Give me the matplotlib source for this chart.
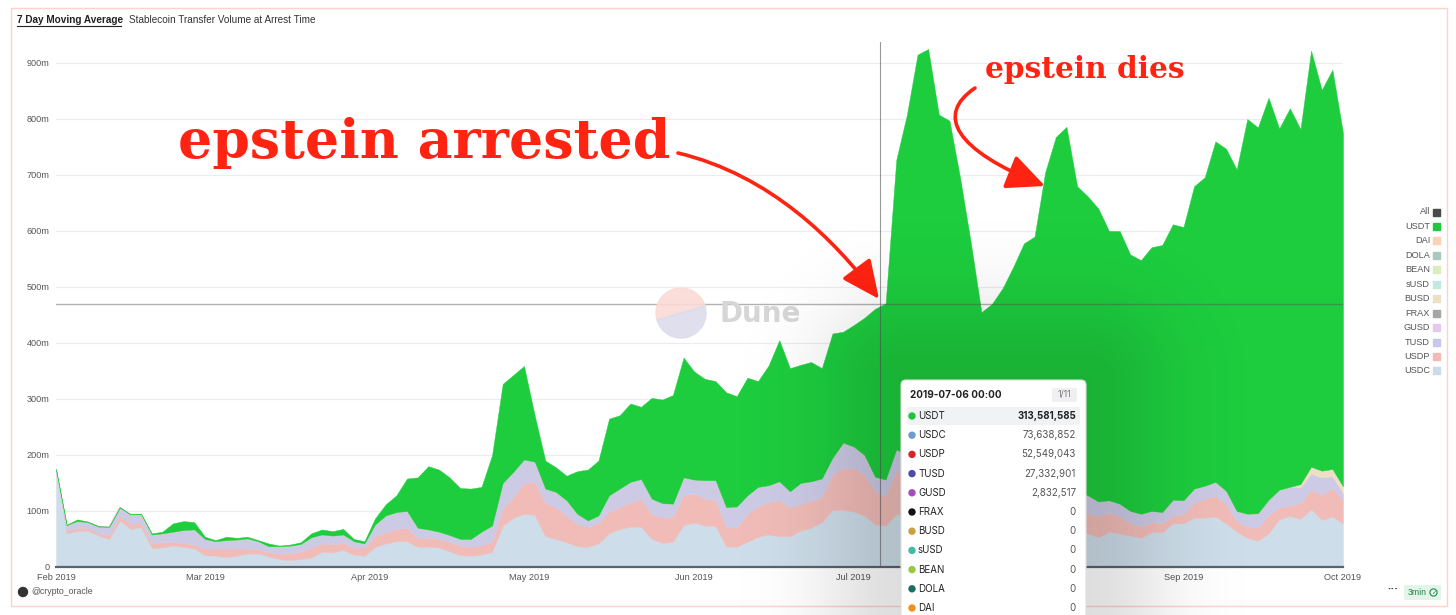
#!/usr/bin/python
# -*- coding:utf-8 -*-

import numpy as np
import matplotlib
matplotlib.use("Agg")
import matplotlib.pyplot as plt
from matplotlib.patches import Rectangle, FancyBboxPatch, FancyArrowPatch, Circle, Wedge
from matplotlib.path import Path
from matplotlib.transforms import IdentityTransform

W, H = 1456, 615

start_date = '2019-02-01'
step_days = 2

# stack edges every 2 days, in millions (7 day MA)
total = [175, 74, 85, 81, 73, 72, 107, 94, 95, 60,
         63, 78, 82, 80, 54, 48, 54, 52, 54, 48,
         42, 38, 40, 44, 60, 67, 64, 68, 50, 46,
         87, 112, 128, 158, 160, 180, 174, 160, 141, 140,
         143, 200, 327, 343, 359, 271, 190, 178, 163, 171,
         174, 190, 265, 271, 292, 286, 302, 299, 307, 374,
         349, 336, 332, 312, 305, 338, 332, 360, 405, 355,
         361, 366, 355, 417, 420, 432, 445, 461, 471, 727,
         808, 915, 925, 808, 797, 695, 580, 455, 470, 498,
         536, 578, 590, 705, 768, 786, 680, 662, 640, 600,
         600, 558, 548, 571, 575, 612, 607, 680, 696, 760,
         747, 710, 800, 785, 838, 783, 819, 782, 922, 852,
         888, 775]

usdc_top = [174, 60, 64, 65, 56, 50, 83, 68, 71, 34,
            35, 38, 36, 33, 21, 20, 18, 20, 24, 24,
            19, 14, 12, 14, 17, 27, 26, 30, 22, 20,
            36, 42, 46, 46, 36, 36, 35, 28, 21, 20,
            22, 27, 74, 88, 95, 93, 55, 50, 44, 37,
            36, 42, 60, 68, 72, 72, 50, 43, 45, 75,
            79, 74, 73, 37, 36, 45, 54, 58, 55, 55,
            65, 70, 80, 102, 102, 99, 92, 76, 74, 95,
            90, 88, 85, 82, 80, 78, 75, 72, 70, 68,
            66, 65, 64, 63, 62, 62, 62, 60, 53, 63,
            60, 56, 52, 62, 62, 78, 78, 88, 88, 90,
            78, 63, 52, 47, 60, 85, 91, 86, 103, 84,
            90, 78]

usdp_top = [174, 64, 70, 70, 60, 57, 92, 77, 78, 42,
            45, 44, 43, 40, 33, 33, 33, 33, 33, 32,
            26, 24, 25, 27, 35, 42, 41, 43, 34, 35,
            55, 62, 68, 70, 52, 52, 50, 45, 38, 36,
            39, 45, 104, 125, 150, 152, 115, 106, 92, 76,
            72, 78, 99, 107, 115, 121, 95, 88, 90, 128,
            131, 122, 119, 72, 70, 95, 108, 116, 119, 106,
            112, 118, 125, 165, 176, 177, 165, 135, 126, 172,
            165, 160, 150, 145, 140, 135, 130, 125, 120, 118,
            115, 112, 110, 108, 106, 104, 100, 96, 91, 97,
            91, 78, 73, 80, 78, 92, 95, 115, 122, 127,
            112, 82, 72, 70, 93, 106, 110, 114, 138, 129,
            141, 119]

# TUSD + GUSD
tusd_top = [174, 75, 82, 80, 72, 72, 106, 94, 94, 58,
            60, 63, 66, 67, 50, 46, 48, 49, 51, 46,
            37, 37, 38, 41, 53, 58, 56, 58, 46, 42,
            76, 92, 98, 100, 70, 67, 63, 57, 50, 50,
            63, 74, 150, 170, 192, 188, 140, 134, 119, 95,
            83, 92, 128, 140, 152, 157, 122, 114, 113, 160,
            156, 155, 155, 107, 108, 128, 143, 146, 153, 135,
            150, 153, 158, 195, 222, 215, 200, 161, 156, 210,
            200, 190, 180, 175, 170, 165, 160, 155, 150, 148,
            145, 142, 140, 138, 136, 134, 132, 128, 117, 119,
            113, 100, 95, 100, 98, 120, 119, 140, 145, 152,
            136, 100, 95, 96, 120, 138, 143, 142, 166, 160,
            162, 132]

busd = [0, 0, 0, 0, 0, 0, 0, 0, 0, 0,
        0, 0, 0, 0, 0, 0, 0, 0, 0, 0,
        0, 0, 0, 0, 0, 0, 0, 0, 0, 0,
        0, 0, 0, 0, 0, 0, 0, 0, 0, 0,
        0, 0, 0, 0, 0, 0, 0, 0, 0, 0,
        0, 0, 0, 0, 0, 0, 0, 0, 0, 0,
        0, 0, 0, 0, 0, 0, 0, 0, 0, 0,
        0, 0, 0, 0, 0, 0, 0, 0, 0, 0,
        0, 0, 0, 0, 0, 0, 0, 0, 0, 0,
        0, 0, 0, 0, 0, 0, 0, 0, 0, 0,
        0, 0, 0, 0, 0, 0, 0, 0, 0, 0,
        0, 0, 0, 0, 0, 0, 0, 6, 13, 12,
        13, 12]

month_ticks = ['2019-02-01', '2019-03-01', '2019-04-01', '2019-05-01', '2019-06-01',
               '2019-07-01', '2019-08-01', '2019-09-01', '2019-10-01']
month_labels = ['Feb 2019', 'Mar 2019', 'Apr 2019', 'May 2019', 'Jun 2019',
                'Jul 2019', 'Aug 2019', 'Sep 2019', 'Oct 2019']
y_ticks = [0, 100, 200, 300, 400, 500, 600, 700, 800, 900]
y_labels = ['0', '100m', '200m', '300m', '400m', '500m', '600m', '700m', '800m', '900m']

legend_names = ['All', 'USDT', 'DAI', 'DOLA', 'BEAN', 'sUSD', 'BUSD', 'FRAX', 'GUSD', 'TUSD', 'USDP', 'USDC']
legend_colors = ['#4a4a4a', '#1ec73e', '#f9d3b4', '#a9c9bf', '#d9edbd', '#c2e9e0',
                 '#ece1c4', '#a6a6a6', '#e5c9ea', '#c9c8ea', '#f3b9b6', '#c9dcec']

tip_date = '2019-07-06'
tip_level = 470
tip_header = '2019-07-06 00:00'
tip_names = ['USDT', 'USDC', 'USDP', 'TUSD', 'GUSD', 'FRAX', 'BUSD', 'sUSD', 'BEAN', 'DOLA', 'DAI']
tip_values = ['313,581,585', '73,638,852', '52,549,043', '27,332,901', '2,832,517',
              '0', '0', '0', '0', '0', '0']
tip_dots = ['#1fc43c', '#6d9dcc', '#d9232b', '#4c4ca6', '#a84cba', '#111111',
            '#c9a23f', '#44b9a6', '#97c93e', '#1f6e63', '#f0901f']

SANS = ['Liberation Sans', 'DejaVu Sans']
UI = ['Inter', 'DejaVu Sans']
ID = IdentityTransform()


def ftext(x, y, s, **kw):
    # text placed in image pixel coords (y from top)
    return fig.text(x / W, 1 - y / H, s, **kw)


def pbox(x0, y0, x1, y1, **kw):
    # box patch in image pixel coords
    return FancyBboxPatch((x0, H - y1), x1 - x0, y1 - y0, transform=ID, clip_on=False, **kw)


fig = plt.figure(figsize=(W / 100, H / 100), dpi=100)
fig.patch.set_facecolor('white')

ax = fig.add_axes([56 / W, 1 - 567 / H, (1343 - 56) / W, (567 - 42) / H])

dates = np.datetime64(start_date) + np.arange(len(total)) * step_days
e1 = np.array(usdc_top, float)
e2 = np.maximum(np.array(usdp_top, float), e1)
e3 = np.maximum(np.array(tusd_top, float), e2)
e4 = e3 + np.array(busd, float)
e5 = np.maximum(np.array(total, float), e4)

ax.fill_between(dates, 0, e1, color='#cddde9', lw=0.3, zorder=2)
ax.fill_between(dates, e1, e2, color='#f1bcb8', lw=0.3, zorder=2)
ax.fill_between(dates, e2, e3, color='#cccae5', lw=0.3, zorder=2)
ax.plot(dates, e3, color='#e6c6e8', lw=1.0, zorder=2)
ax.fill_between(dates, e3, e4, color='#ecdfc4', lw=0.3, zorder=2)
ax.fill_between(dates, e4, e5, color='#1dcd3e', lw=0.3, zorder=2)

ax.set_xlim(dates[0], dates[-1])
ax.set_ylim(0, (567 - 42) / 0.56)
ax.set_yticks(y_ticks)
ax.set_yticklabels(y_labels)
ax.set_xticks(np.array(month_ticks, dtype='datetime64[D]'))
ax.set_xticklabels(month_labels)
ax.tick_params(length=0, labelsize=6.6, labelcolor='#555555')
ax.tick_params(axis='y', pad=4.5)
ax.tick_params(axis='x', pad=4)
for lab in ax.get_xticklabels() + ax.get_yticklabels():
    lab.set_family(SANS)
ax.grid(axis='y', color='#ebebf0', lw=0.8, zorder=0)
ax.set_axisbelow(True)
for side in ['top', 'right', 'left']:
    ax.spines[side].set_visible(False)
ax.spines['bottom'].set_color('#59636e')
ax.spines['bottom'].set_linewidth(1.6)
ax.spines['bottom'].set_zorder(5)

# hover crosshair
ax.axvline(np.datetime64(tip_date), color='#555555', lw=0.8, alpha=0.6, zorder=4)
ax.axhline(tip_level, color='#555555', lw=1.0, alpha=0.45, zorder=4)

# Dune watermark
fig.add_artist(Wedge((681, H - 313), 25, 16, 196, transform=ID, color='#fbdad6', alpha=0.9))
fig.add_artist(Wedge((681, H - 313), 25, 196, 376, transform=ID, color='#dcdcec', alpha=0.9))
ftext(719, 314, 'Dune', fontsize=20, fontweight='bold', color='#d6d6d6',
      family='DejaVu Sans', va='center', ha='left')

# frame + header
fig.add_artist(Rectangle((11, H - 606), 1436, 598, transform=ID, fill=False,
                         edgecolor='#fbd3cb', lw=1.0))
ftext(17, 20, '7 Day Moving Average', fontsize=7.2, fontweight='bold', color='#222222',
      family=SANS, va='center')
fig.add_artist(plt.Line2D([17 / W, 121 / W], [1 - 26 / H, 1 - 26 / H], color='#222222', lw=0.8))
ftext(129, 20, 'Stablecoin Transfer Volume at Arrest Time', fontsize=7.2, color='#333333',
      family=SANS, va='center')

# legend on the right
for i, (name, col) in enumerate(zip(legend_names, legend_colors)):
    yy = 212 + i * 14.45
    ftext(1430, yy, name, fontsize=6.6, color='#555555', family=SANS, ha='right', va='center')
    fig.add_artist(Rectangle((1433, H - yy - 3.5), 7, 7, transform=ID, color=col))

# footer
fig.add_artist(Circle((23, H - 592), 4.5, transform=ID, color='#333333'))
ftext(31, 592, '@crypto_oracle', fontsize=6.3, color='#555555', family=SANS, va='center')
ftext(1393, 590, '···', fontsize=8, color='#333333', family=SANS, va='center', ha='center',
      fontweight='bold')
fig.add_artist(pbox(1404, 585, 1441, 600, boxstyle='round,pad=0,rounding_size=2',
                    facecolor='#e2f5e8', edgecolor='none'))
ftext(1408, 592.5, '3min', fontsize=6.3, color='#1f8a4c', family=SANS, va='center')
fig.add_artist(Circle((1433.5, H - 592.5), 3.6, transform=ID, fill=False,
                      edgecolor='#1f8a4c', lw=0.8))
ftext(1433.5, 592.5, '✓', fontsize=4.5, color='#1f8a4c', family='DejaVu Sans',
      va='center', ha='center')

# red annotations
RED = '#ff2312'
ftext(178, 158, 'epstein arrested', fontsize=38.7, fontweight='bold', color=RED,
      family='DejaVu Serif', va='baseline', ha='left')
ftext(985, 78, 'epstein dies', fontsize=21.3, fontweight='bold', color=RED,
      family='DejaVu Serif', va='baseline', ha='left')


def curve(p0, p1, p2, p3):
    pts = [(x, H - y) for x, y in (p0, p1, p2, p3)]
    return Path(pts, [Path.MOVETO, Path.CURVE4, Path.CURVE4, Path.CURVE4])


for pth in [curve((678, 153), (770, 175), (835, 240), (879, 299)),
            curve((975, 88), (935, 115), (955, 150), (1045, 186))]:
    fig.add_artist(FancyArrowPatch(path=pth, transform=ID,
                                   arrowstyle='-|>,head_length=1.3,head_width=0.6',
                                   mutation_scale=18, color=RED, lw=2.6))

# soft shadow around the tooltip
gy, gx = np.mgrid[0:H, 0:W]
ddx = np.maximum(np.maximum(901 - gx, gx - 1086), 0)
ddy = np.maximum(380 - gy, 0)
dist = np.hypot(ddx, ddy)
shade = np.zeros((H, W, 4))
shade[..., 3] = 0.13 * np.exp(-(dist / 85.0) ** 2)
fig.figimage(shade, xo=0, yo=0, origin='upper', zorder=8)

# tooltip
fig.add_artist(pbox(901, 380, 1086, 640, boxstyle='round,pad=0,rounding_size=5',
                    facecolor='white', edgecolor='#dedede', lw=0.8, zorder=9))
ftext(910, 395, tip_header, fontsize=7.2, fontweight='bold', color='#222222',
      family=UI, va='center', zorder=10)
fig.add_artist(pbox(1052, 388, 1077, 402, boxstyle='round,pad=0,rounding_size=2',
                    facecolor='#f0f0f2', edgecolor='none', zorder=10))
ftext(1064.5, 395, '1/11', fontsize=6.3, color='#777777', family=UI,
      va='center', ha='center', zorder=11)
fig.add_artist(pbox(907, 407, 1080, 425, boxstyle='round,pad=0,rounding_size=2',
                    facecolor='#f1f2f4', edgecolor='none', zorder=10))
for i, (name, val, col) in enumerate(zip(tip_names, tip_values, tip_dots)):
    yy = 416 + i * 19.2
    fig.add_artist(Circle((912, H - yy), 3, transform=ID, color=col, zorder=11))
    ftext(918, yy, name, fontsize=7, color='#222222', family=UI, va='center', zorder=11)
    ftext(1076, yy, val, fontsize=7, color='#222222' if i == 0 else '#555555',
          fontweight='bold' if i == 0 else 'normal', family=UI,
          va='center', ha='right', zorder=11)

fig.savefig('out.png', dpi=100)
